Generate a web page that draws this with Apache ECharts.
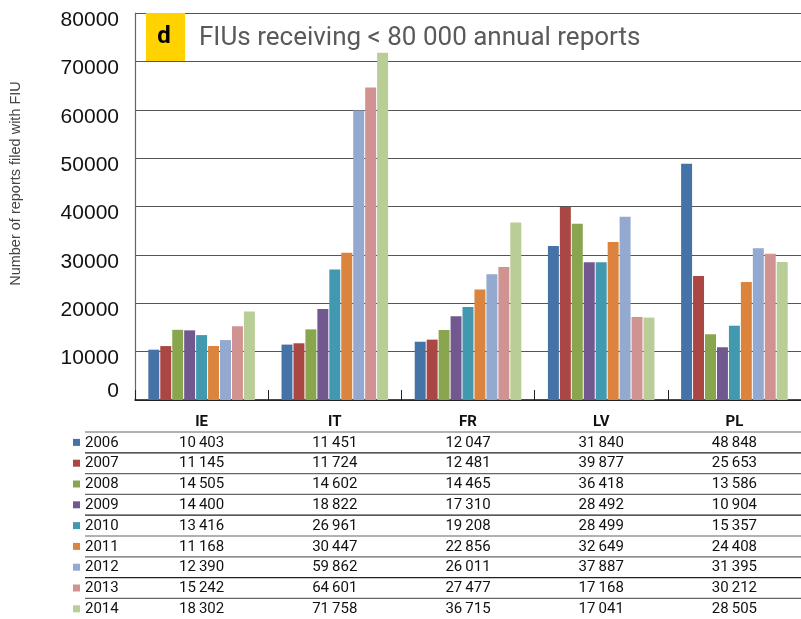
<!DOCTYPE html>
<html>
<head>
<meta charset="utf-8">
<script src="https://cdn.jsdelivr.net/npm/echarts@6/dist/echarts.min.js"></script>
<style>
html,body{margin:0;padding:0;background:#fff;}
#c{width:801px;height:619px;}
</style>
</head>
<body>
<div id="c"></div>
<script>
const categories = ['IE', 'IT', 'FR', 'LV', 'PL'];
const years = ['2006', '2007', '2008', '2009', '2010', '2011', '2012', '2013', '2014'];
const v2006 = [10403, 11451, 12047, 31840, 48848];
const v2007 = [11145, 11724, 12481, 39877, 25653];
const v2008 = [14505, 14602, 14465, 36418, 13586];
const v2009 = [14400, 18822, 17310, 28492, 10904];
const v2010 = [13416, 26961, 19208, 28499, 15357];
const v2011 = [11168, 30447, 22856, 32649, 24408];
const v2012 = [12390, 59862, 26011, 37887, 31395];
const v2013 = [15242, 64601, 27477, 17168, 30212];
const v2014 = [18302, 71758, 36715, 17041, 28505];
const seriesValues = [v2006, v2007, v2008, v2009, v2010, v2011, v2012, v2013, v2014];
const colors = ['#4572A7', '#AA4643', '#89A54E', '#71588F', '#4198AF', '#DB843D', '#93A9CF', '#D19392', '#B9CD96'];
const titleText = 'FIUs receiving < 80 000 annual reports';
const panelLetter = 'd';
const yAxisTitle = 'Number of reports filed with FIU';

function fmt(v) {
  const s = String(v);
  if (s.length <= 3) return s;
  return s.slice(0, s.length - 3) + '\u2009' + s.slice(s.length - 3);
}

const chart = echarts.init(document.getElementById('c'), null, {renderer: 'canvas'});

const option = {
  animation: false,
  backgroundColor: '#ffffff',
  grid: {left: 133, top: 13, width: 672, height: 387, containLabel: false},
  xAxis: {
    type: 'category',
    data: categories,
    axisLine: {show: true, lineStyle: {color: '#111', width: 1.5}},
    axisTick: {show: true, inside: true, length: 10, lineStyle: {color: '#222', width: 1}},
    axisLabel: {margin: 15, fontFamily: 'Roboto', fontWeight: 'bold', fontSize: 15, color: '#111'},
    splitLine: {show: false}
  },
  yAxis: {
    type: 'value',
    min: 0, max: 80000, interval: 10000,
    name: yAxisTitle,
    nameLocation: 'middle',
    nameRotate: 90,
    nameGap: 112,
    nameTextStyle: {fontFamily: 'Liberation Sans', fontSize: 14.5, color: '#444', padding: [0, 0, 0, 46]},
    axisLine: {show: true, lineStyle: {color: '#666', width: 1.2}},
    axisTick: {show: false},
    axisLabel: {
      margin: 16,
      formatter: function (v) { return v === 0 ? '{z|0}' : '{n|' + v + '}'; },
      rich: {
        n: {fontFamily: 'Liberation Sans', fontSize: 21, color: '#111', padding: [14, 0, 0, 0]},
        z: {fontFamily: 'Liberation Sans', fontSize: 21, color: '#111', padding: [0, 0, 18, 0]}
      }
    },
    splitLine: {show: true, lineStyle: {color: '#555', width: 1.2}}
  },
  series: years.map(function (y, i) {
    return {
      name: y,
      type: 'bar',
      data: seriesValues[i],
      barCategoryGap: '20%',
      barGap: '9%',
      itemStyle: {color: colors[i]}
    };
  })
};

chart.setOption(option);

const g = [];
g.push({type: 'rect', shape: {x: 146, y: 13, width: 39, height: 48}, style: {fill: '#FFD200'}, z: 10});
g.push({type: 'text', x: 164, y: 37, style: {text: panelLetter, font: 'bold 24px Roboto', fill: '#000', align: 'center', verticalAlign: 'middle'}, z: 11});
g.push({type: 'text', x: 199, y: 38, style: {text: titleText, font: '26px Roboto', fill: '#5a5a5a', align: 'left', verticalAlign: 'middle'}, z: 11});

const rowTop = 432;
const rowH = 20.8;
for (let r = 0; r < years.length; r++) {
  const yLine = rowTop + r * rowH;
  g.push({type: 'line', shape: {x1: 85, y1: yLine, x2: 801, y2: yLine}, style: {stroke: (r % 3 === 1 ? '#222' : '#666'), lineWidth: 1.2}, z: 5});
  const cy = yLine + rowH / 2 + 0.5;
  g.push({type: 'rect', shape: {x: 73, y: cy - 4, width: 7, height: 7}, style: {fill: colors[r]}, z: 6});
  g.push({type: 'text', x: 85, y: cy, style: {text: years[r], font: '15px Roboto', fill: '#111', align: 'left', verticalAlign: 'middle'}, z: 6});
  for (let c = 0; c < categories.length; c++) {
    const px = chart.convertToPixel({xAxisIndex: 0}, categories[c]);
    g.push({type: 'text', x: px, y: cy, style: {text: fmt(seriesValues[r][c]), font: '15px Roboto', fill: '#111', align: 'center', verticalAlign: 'middle'}, z: 6});
  }
}
chart.setOption({graphic: g});
</script>
</body>
</html>
